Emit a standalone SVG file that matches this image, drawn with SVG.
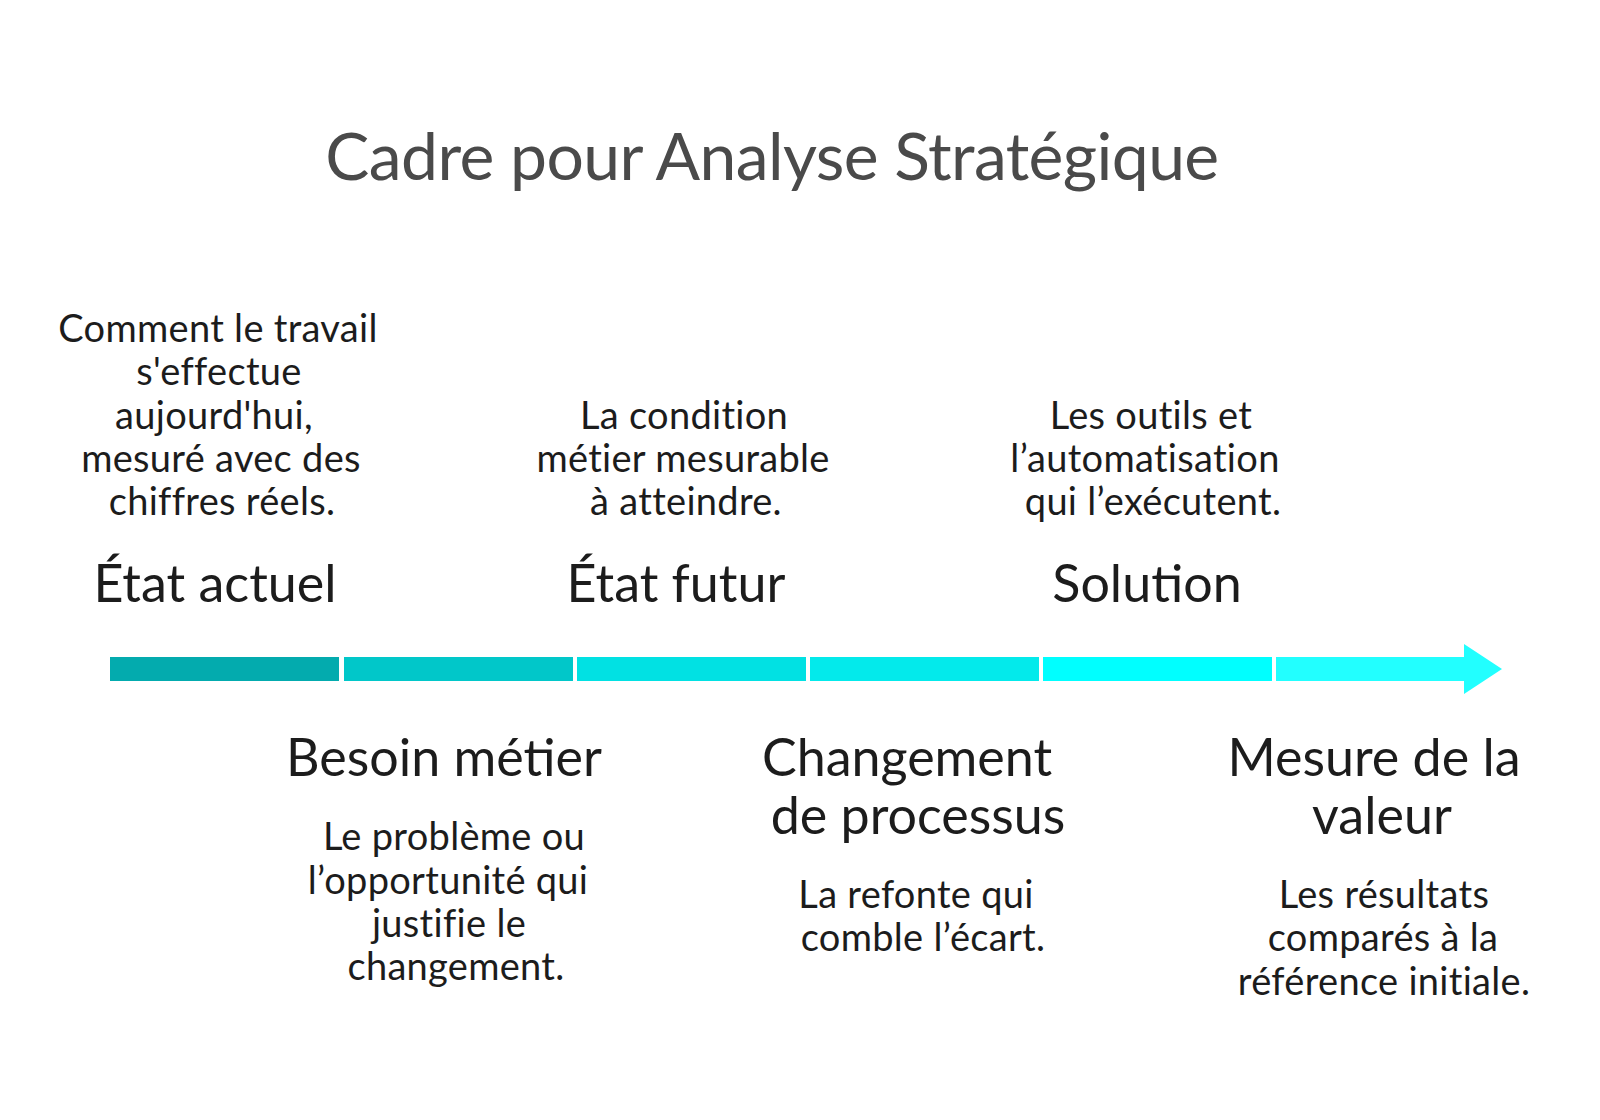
<svg xmlns="http://www.w3.org/2000/svg" width="1600" height="1120" viewBox="0 0 1600 1120">
<style>
text{font-family:"Lato","Open Sans","Liberation Sans",sans-serif;text-anchor:middle;fill:#1c1c1c}
.title{font-size:66px;fill:#4a4a4a;letter-spacing:-0.6px}
.head{font-size:52px}
.body{font-size:38px;letter-spacing:0.3px}
</style>
<rect width="1600" height="1120" fill="#ffffff"/>
<text class="title" x="772" y="180">Cadre pour Analyse Stratégique</text>
<g id="connectors">
<rect x="110" y="657" width="229" height="24" fill="#03ABAE"/>
<rect x="344" y="657" width="229" height="24" fill="#01C7C9"/>
<rect x="577" y="657" width="229" height="24" fill="#01E1E3"/>
<rect x="810" y="657" width="229" height="24" fill="#03EAEB"/>
<rect x="1043" y="657" width="229" height="24" fill="#00FFFF"/>
<polygon points="1276,657 1464,657 1464,644 1502,669 1464,694 1464,681 1276,681" fill="#22FFFF"/>
</g>
<g id="etat-actuel">
<text class="body"><tspan x="218" y="342">Comment le travail</tspan><tspan x="219" y="385">s'effectue</tspan><tspan x="214" y="429">aujourd'hui,</tspan><tspan x="221" y="472">mesuré avec des</tspan><tspan x="222" y="515">chiffres réels.</tspan></text>
<text class="head" x="215" y="602">État actuel</text>
</g>
<g id="besoin-metier">
<text class="head" x="444" y="776">Besoin métier</text>
<text class="body"><tspan x="454" y="850">Le problème ou</tspan><tspan x="448" y="894">l’opportunité qui</tspan><tspan x="449" y="937">justifie le</tspan><tspan x="456" y="980">changement.</tspan></text>
</g>
<g id="etat-futur">
<text class="body"><tspan x="684" y="429">La condition</tspan><tspan x="683" y="472">métier mesurable</tspan><tspan x="686" y="515">à atteindre.</tspan></text>
<text class="head" x="676" y="602">État futur</text>
</g>
<g id="changement-processus">
<text class="head"><tspan x="907" y="776">Changement</tspan><tspan x="918" y="834">de processus</tspan></text>
<text class="body"><tspan x="916" y="908">La refonte qui</tspan><tspan x="923" y="951">comble l’écart.</tspan></text>
</g>
<g id="solution">
<text class="body"><tspan x="1151" y="429">Les outils et</tspan><tspan x="1145" y="472">l’automatisation</tspan><tspan x="1153" y="515">qui l’exécutent.</tspan></text>
<text class="head" x="1147" y="602">Solution</text>
</g>
<g id="mesure-valeur">
<text class="head"><tspan x="1374" y="776">Mesure de la</tspan><tspan x="1382" y="834">valeur</tspan></text>
<text class="body"><tspan x="1384" y="908">Les résultats</tspan><tspan x="1383" y="951">comparés à la</tspan><tspan x="1384" y="995">référence initiale.</tspan></text>
</g>
</svg>
